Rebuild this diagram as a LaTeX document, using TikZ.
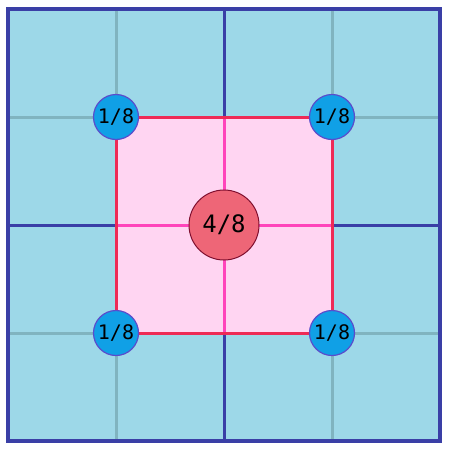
\documentclass[tikz,border=0pt]{standalone}
\usepackage{fontspec}
\setmainfont{DejaVu Sans Mono}
\usepackage{tikz}
\usetikzlibrary{positioning}
\definecolor{cellblue}{HTML}{9DD8E8}
\definecolor{thingrid}{HTML}{80B4C0}
\definecolor{darkgrid}{HTML}{3A3FA6}
\definecolor{areapink}{HTML}{FFD5F2}
\definecolor{arealine}{HTML}{EE2A55}
\definecolor{crosspink}{HTML}{FF44BB}
\definecolor{dotblue}{HTML}{10A0E6}
\definecolor{dotedge}{HTML}{5A4CCC}
\definecolor{midred}{HTML}{EE6677}
\definecolor{midedge}{HTML}{801030}

\tikzset{
    corner/.style={circle, draw=dotedge, fill=dotblue, line width=1.2pt,
        minimum size=45pt, inner sep=0pt, font=\fontsize{20}{20}\selectfont},
    centre/.style={circle, draw=midedge, fill=midred, line width=1pt,
        minimum size=70pt, inner sep=0pt, font=\fontsize{24}{24}\selectfont}
}

\begin{document}
\begin{tikzpicture}[x=1pt, y=-1pt]
    \useasboundingbox (0,0) rectangle (449,450);
    \fill[white] (0,0) rectangle (449,450);
    % cells
    \fill[cellblue] (8,9) rectangle (440,441);
    \foreach \t in {116,332} {
        \draw[thingrid, line width=3pt] (\t,9) -- (\t,441);
        \draw[thingrid, line width=3pt] (8,\t+1) -- (440,\t+1);
    }
    \draw[darkgrid, line width=3pt] (224,9) -- (224,441);
    \draw[darkgrid, line width=3pt] (8,225) -- (440,225);
    % covered area
    \fill[areapink] (116,117) rectangle (332,333);
    \draw[crosspink, line width=3pt] (224,117) -- (224,333);
    \draw[crosspink, line width=3pt] (116,225) -- (332,225);
    \draw[arealine, line width=3pt] (116,117) rectangle (332,333);
    \draw[darkgrid, line width=4pt] (8,9) rectangle (440,441);
    % weights
    \node[corner] (tl) at (116,117) {1/8};
    \node[corner] (tr) at (332,117) {1/8};
    \node[corner] (bl) at (116,333) {1/8};
    \node[corner] (br) at (332,333) {1/8};
    \node[centre] (mid) at (224,225) {4/8};
\end{tikzpicture}
\end{document}
